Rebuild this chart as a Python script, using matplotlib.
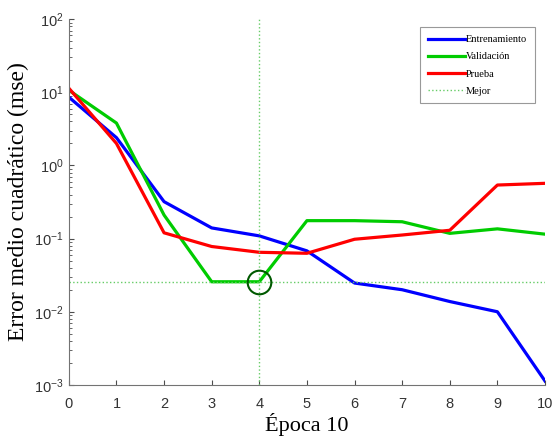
import matplotlib
matplotlib.use("Agg")
import matplotlib.pyplot as plt

# datos (mse por epoca)
epocas = [0, 1, 2, 3, 4, 5, 6, 7, 8, 9, 10]
entrenamiento = [8.6, 2.4, 0.32, 0.14, 0.109, 0.068, 0.0247, 0.020, 0.0138, 0.010, 0.00113]
validacion = [10.7, 3.8, 0.21, 0.0257, 0.0257, 0.176, 0.176, 0.17, 0.118, 0.136, 0.115]
prueba = [11.4, 2.0, 0.12, 0.078, 0.065, 0.063, 0.098, 0.112, 0.13, 0.54, 0.57]
mejor_epoca = 4
mejor_valor = 0.0257

plt.rcParams["mathtext.fontset"] = "custom"
plt.rcParams["mathtext.rm"] = "Liberation Sans"

fig = plt.figure(figsize=(5.55, 4.46), dpi=100)
ax = fig.add_axes([0.124, 0.137, 0.858, 0.82])

verde_claro = (0.4, 0.8, 0.4)
ax.plot(epocas, entrenamiento, color=(0, 0, 1), lw=2.3, label="Entrenamiento")
ax.plot(epocas, validacion, color=(0, 0.8, 0), lw=2.3, label="Validación")
ax.plot(epocas, prueba, color=(1, 0, 0), lw=2.3, label="Prueba")
ax.axvline(mejor_epoca, color=verde_claro, ls=":", lw=1.0, label="Mejor")
ax.axhline(mejor_valor, color=verde_claro, ls=":", lw=1.0)
ax.plot([mejor_epoca], [mejor_valor], "o", mfc="none", mec=(0, 0.35, 0), ms=17, mew=1.5)

ax.set_yscale("log")
ax.set_xlim(0, 10)
ax.set_ylim(1e-3, 1e2)
ax.set_xticks(epocas)
ax.tick_params(which="both", direction="in", colors="0.3", labelcolor="0.2", labelsize=10.5)
ax.tick_params(axis="x", pad=9)
ax.tick_params(axis="y", pad=4)
for lbl in ax.get_xticklabels() + ax.get_yticklabels():
    lbl.set_family("Liberation Sans")
for s in ["top", "right"]:
    ax.spines[s].set_visible(False)
for s in ["left", "bottom"]:
    ax.spines[s].set_color("0.45")

ax.set_ylabel("Error medio cuadrático (mse)", family="Liberation Serif", fontsize=17, labelpad=3)
ax.set_xlabel("Época 10", family="Liberation Serif", fontsize=16, labelpad=1)

leg = ax.legend(loc="upper right", bbox_to_anchor=(0.979, 0.978), borderaxespad=0,
                fancybox=False, edgecolor="0.5", handlelength=3.6, handletextpad=0.1,
                labelspacing=0.75, borderpad=0.75,
                prop={"family": "Liberation Serif", "size": 7.5})
leg.get_frame().set_linewidth(0.8)

fig.savefig("out.png", dpi=100)
